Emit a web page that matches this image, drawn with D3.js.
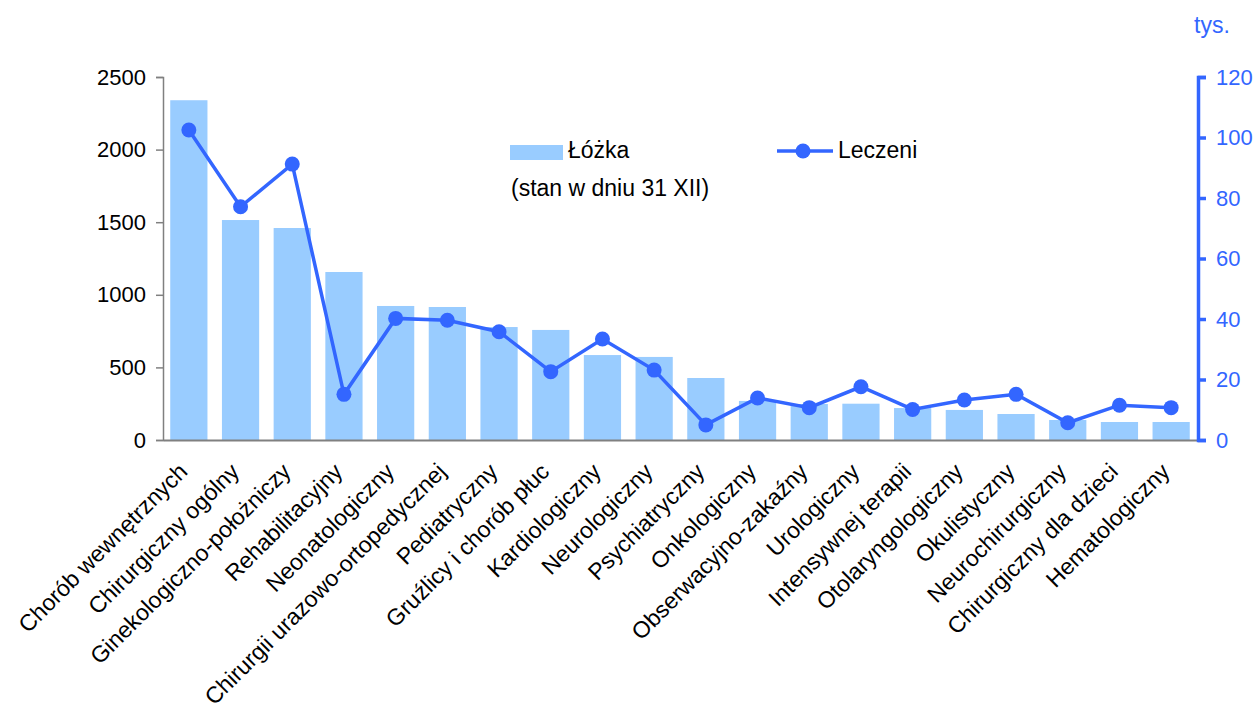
<!DOCTYPE html>
<html lang="pl">
  <head>
    <meta charset="UTF-8" />
    <title>Łóżka i leczeni</title>
    <style>
      body { margin: 0; background: #fff; }
      svg text { font-family: "Liberation Sans", Arial, sans-serif; }
    </style>
  </head>
  <body>
    <div class="chart"></div>

    <script src="https://d3js.org/d3.v7.min.js"></script>
    <script>
      // dane =================================================================
      const categories = [
        "Chorób wewnętrznych", "Chirurgiczny ogólny", "Ginekologiczno-położniczy",
        "Rehabilitacyjny", "Neonatologiczny", "Chirurgii urazowo-ortopedycznej",
        "Pediatryczny", "Gruźlicy i chorób płuc", "Kardiologiczny", "Neurologiczny",
        "Psychiatryczny", "Onkologiczny", "Obserwacyjno-zakaźny", "Urologiczny",
        "Intensywnej terapii", "Otolaryngologiczny", "Okulistyczny",
        "Neurochirurgiczny", "Chirurgiczny dla dzieci", "Hematologiczny"
      ];
      // łóżka (stan w dniu 31 XII)
      const beds = [2340, 1515, 1460, 1157, 923, 916, 778, 758, 585, 572,
                    427, 269, 248, 250, 220, 207, 179, 138, 124, 124];
      // leczeni, tys.
      const treated = [102.5, 77.1, 91.2, 15.1, 40.2, 39.6, 35.8, 22.6, 33.4, 23.1,
                       5.0, 13.9, 10.7, 17.6, 10.1, 13.2, 15.1, 5.7, 11.5, 10.7];
      const leftTicks = [0, 500, 1000, 1500, 2000, 2500];
      const rightTicks = [0, 20, 40, 60, 80, 100, 120];

      const W = 1257, H = 711;
      const barColor = "#99ccff", lineColor = "#3366ff";

      const svg = d3.select(".chart").append("svg")
        .attr("width", W).attr("height", H);

      // skale
      const x = d3.scaleBand().domain(categories).range([163, 1197])
        .paddingInner(0.28).paddingOuter(0.14);
      const yL = d3.scaleLinear().domain([0, 2500]).range([440, 77]);
      const yR = d3.scaleLinear().domain([0, 120]).range([440, 77]);

      // słupki
      svg.append("g").selectAll("rect")
        .data(beds)
        .enter()
        .append("rect")
        .attr("x", (d, i) => x(categories[i]))
        .attr("y", (d) => yL(d))
        .attr("width", x.bandwidth())
        .attr("height", (d) => yL(0) - yL(d))
        .attr("fill", barColor);

      // oś lewa
      const axL = svg.append("g").attr("transform", "translate(163,0)")
        .call(d3.axisLeft(yL).tickValues(leftTicks).tickFormat(d3.format("d"))
          .tickSize(7).tickPadding(10));
      axL.select(".domain").attr("stroke", "#808080").attr("stroke-width", 1.5);
      axL.selectAll(".tick line").attr("stroke", "#808080").attr("stroke-width", 1.5);
      axL.selectAll("text").attr("font-size", 22).attr("fill", "#000")
        .style("font-family", '"Liberation Sans", Arial, sans-serif');

      // oś dolna
      const axB = svg.append("g").attr("transform", "translate(0,440)")
        .call(d3.axisBottom(x).tickSize(0).tickSizeOuter(0));
      axB.select(".domain").attr("stroke", "#808080").attr("stroke-width", 2);
      axB.selectAll("text")
        .attr("font-size", 23).attr("fill", "#000")
        .attr("text-anchor", "end")
        .attr("dy", 0).attr("y", 0)
        .attr("transform", "translate(0,33) rotate(-45)")
        .style("font-family", '"Liberation Sans", Arial, sans-serif');

      // oś prawa
      const axR = svg.append("g").attr("transform", "translate(1198,0)")
        .call(d3.axisRight(yR).tickValues(rightTicks).tickSize(8).tickSizeOuter(8).tickPadding(10));
      axR.select(".domain").attr("stroke", lineColor).attr("stroke-width", 3.5);
      axR.selectAll(".tick line").attr("stroke", lineColor).attr("stroke-width", 3.5);
      axR.selectAll("text").attr("font-size", 22).attr("fill", lineColor)
        .style("font-family", '"Liberation Sans", Arial, sans-serif');

      svg.append("text").attr("x", 1194).attr("y", 33)
        .attr("font-size", 23).attr("fill", lineColor).text("tys.");

      // linia leczonych
      const line = d3.line()
        .x((d, i) => x(categories[i]) + x.bandwidth() / 2)
        .y((d) => yR(d));
      svg.append("path").datum(treated)
        .attr("d", line)
        .attr("fill", "none")
        .attr("stroke", lineColor)
        .attr("stroke-width", 3.5);
      svg.append("g").selectAll("circle")
        .data(treated)
        .enter()
        .append("circle")
        .attr("cx", (d, i) => x(categories[i]) + x.bandwidth() / 2)
        .attr("cy", (d) => yR(d))
        .attr("r", 7.5)
        .attr("fill", lineColor);

      // legenda
      const lg = svg.append("g");
      lg.append("rect").attr("x", 510).attr("y", 145).attr("width", 53).attr("height", 15)
        .attr("fill", barColor);
      lg.append("text").attr("x", 568).attr("y", 158).attr("font-size", 23).text("Łóżka");
      lg.append("text").attr("x", 511).attr("y", 196).attr("font-size", 23).text("(stan w dniu 31 XII)");
      lg.append("line").attr("x1", 777).attr("x2", 833).attr("y1", 151).attr("y2", 151)
        .attr("stroke", lineColor).attr("stroke-width", 3.5);
      lg.append("circle").attr("cx", 803).attr("cy", 151).attr("r", 7.5).attr("fill", lineColor);
      lg.append("text").attr("x", 838).attr("y", 158).attr("font-size", 23).text("Leczeni");
    </script>
  </body>
</html>
